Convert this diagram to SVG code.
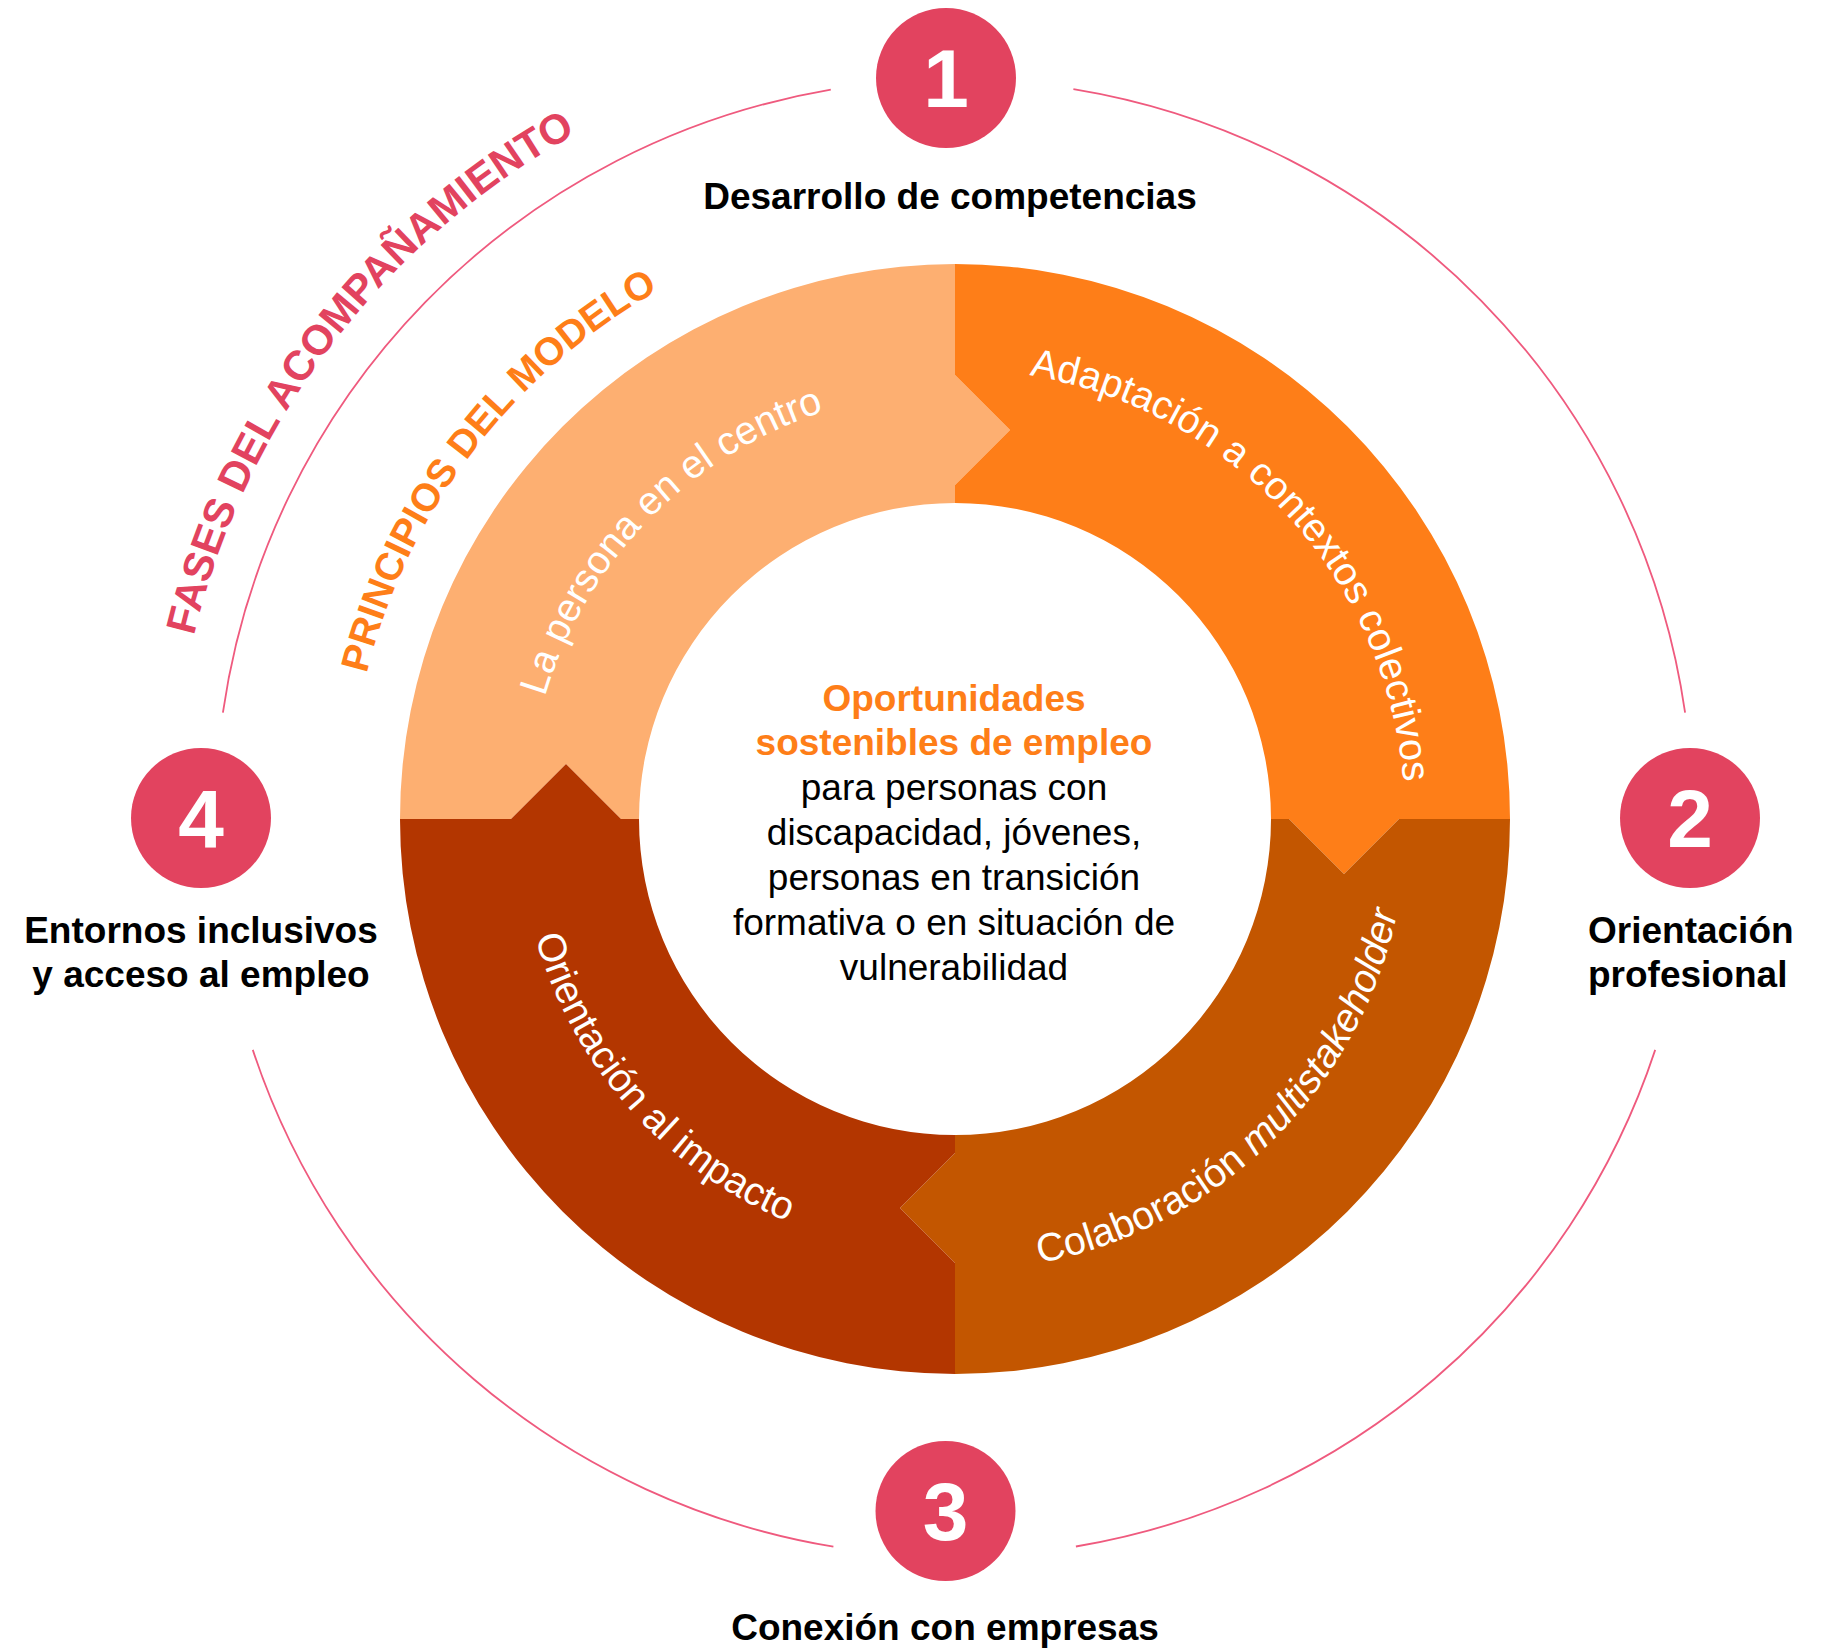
<svg xmlns="http://www.w3.org/2000/svg" xmlns:xlink="http://www.w3.org/1999/xlink" width="1831" height="1648" viewBox="0 0 1831 1648">
<style>
.lbl{font-family:"Liberation Sans",Arial,sans-serif;font-weight:bold;font-size:37px;fill:#000}
.num{font-family:"Liberation Sans",Arial,sans-serif;font-weight:bold;font-size:82px;fill:#fff;text-anchor:middle}
.badge{fill:#E2435F}
.ring{font-family:"Liberation Sans",Arial,sans-serif;font-size:39.5px;fill:#fff}
.ctr{font-family:"Liberation Sans",Arial,sans-serif;font-size:37px;text-anchor:middle;fill:#000}
.ctrb{font-weight:bold;fill:#FE7E18}
.arc{fill:none;stroke:#EF5A7E;stroke-width:1.8}
</style>
<defs>
<path id="pFases" d="M 172.9 855.9 A 783 783 0 0 1 782.9 55.2"/>
<path id="pPrin" d="M 349.7 847.5 A 606 606 0 0 1 821.8 227.8"/>
<path id="pPers" d="M 528.3 786.2 A 428 428 0 0 1 913.2 393.0"/>
<path id="pAdap" d="M 973.8 369.4 A 450 450 0 0 1 1404.6 837.8"/>
<path id="pCola" d="M 950.7 1271 A 452 452 0 0 0 1407 823.3"/>
<path id="pOrie" d="M 519.8 792.8 A 436 436 0 0 0 928.8 1254.2"/>
</defs>
<rect width="1831" height="1648" fill="#fff"/>

<g id="connectors">
<path class="arc" d="M 830.8 89.7 A 738.6 738.6 0 0 0 222.9 712.7"/>
<path class="arc" d="M 1073.4 89.1 A 738.6 738.6 0 0 1 1685.1 712.7"/>
<path class="arc" d="M 1655.2 1049.9 A 738.6 738.6 0 0 1 1075.9 1546.5"/>
<path class="arc" d="M 833.4 1546.7 A 738.6 738.6 0 0 1 252.8 1049.9"/>
</g>

<g id="titles">
<text font-family="Liberation Sans, Arial, sans-serif" font-weight="bold" font-size="42" fill="#E2435F"><textPath xlink:href="#pFases" href="#pFases" startOffset="50%" text-anchor="middle">FASES DEL ACOMPAÑAMIENTO</textPath></text>
<text font-family="Liberation Sans, Arial, sans-serif" font-weight="bold" font-size="39" fill="#FE7E18"><textPath xlink:href="#pPrin" href="#pPrin" startOffset="50%" text-anchor="middle">PRINCIPIOS DEL MODELO</textPath></text>
</g>

<g id="seg-persona">
<path fill="#FDAF71" d="M 955 264 L 955 375 L 1010 430 L 955 485 L 955 503 A 316 316 0 0 0 639 819 L 621 819 L 566 764 L 511 819 L 400 819 A 555 555 0 0 1 955 264 Z"/>
<text class="ring"><textPath xlink:href="#pPers" href="#pPers" startOffset="50%" text-anchor="middle">La persona en el centro</textPath></text>
</g>
<g id="seg-adaptacion">
<path fill="#FE7E18" d="M 955 264 A 555 555 0 0 1 1510 819 L 1399 819 L 1344 874 L 1289 819 L 1271 819 A 316 316 0 0 0 955 503 L 955 485 L 1010 430 L 955 375 Z"/>
<text class="ring"><textPath xlink:href="#pAdap" href="#pAdap" startOffset="50%" text-anchor="middle">Adaptación a contextos colectivos</textPath></text>
</g>
<g id="seg-colaboracion">
<path fill="#C35600" d="M 1510 819 A 555 555 0 0 1 955 1374 L 955 1263 L 900 1208 L 955 1153 L 955 1135 A 316 316 0 0 0 1271 819 L 1289 819 L 1344 874 L 1399 819 Z"/>
<text class="ring"><textPath xlink:href="#pCola" href="#pCola" startOffset="50%" text-anchor="middle">Colaboración <tspan font-style="italic">multistakeholder</tspan></textPath></text>
</g>
<g id="seg-impacto">
<path fill="#B33600" d="M 955 1374 A 555 555 0 0 1 400 819 L 511 819 L 566 764 L 621 819 L 639 819 A 316 316 0 0 0 955 1135 L 955 1153 L 900 1208 L 955 1263 Z"/>
<text class="ring"><textPath xlink:href="#pOrie" href="#pOrie" startOffset="50%" text-anchor="middle">Orientación al impacto</textPath></text>
</g>

<g id="center-text">
<text class="ctr ctrb" x="954" y="711">Oportunidades</text>
<text class="ctr ctrb" x="954" y="755">sostenibles de empleo</text>
<text class="ctr" x="954" y="800">para personas con</text>
<text class="ctr" x="954" y="845">discapacidad, jóvenes,</text>
<text class="ctr" x="954" y="890">personas en transición</text>
<text class="ctr" x="954" y="935">formativa o en situación de</text>
<text class="ctr" x="954" y="980">vulnerabilidad</text>
</g>

<g id="phase-1">
<circle class="badge" cx="946" cy="78" r="70"/>
<text class="num" x="946" y="107">1</text>
<text class="lbl" x="950" y="209" text-anchor="middle" font-size="37.5">Desarrollo de competencias</text>
</g>
<g id="phase-2">
<circle class="badge" cx="1690" cy="818" r="70"/>
<text class="num" x="1690" y="847">2</text>
<text class="lbl" x="1588" y="943">Orientación</text>
<text class="lbl" x="1588" y="987">profesional</text>
</g>
<g id="phase-3">
<circle class="badge" cx="945.5" cy="1511" r="70"/>
<text class="num" x="945.5" y="1540">3</text>
<text class="lbl" x="945" y="1640" text-anchor="middle">Conexión con empresas</text>
</g>
<g id="phase-4">
<circle class="badge" cx="201" cy="818" r="70"/>
<text class="num" x="201" y="847">4</text>
<text class="lbl" x="201" y="943" text-anchor="middle">Entornos inclusivos</text>
<text class="lbl" x="201" y="987" text-anchor="middle">y acceso al empleo</text>
</g>
</svg>
